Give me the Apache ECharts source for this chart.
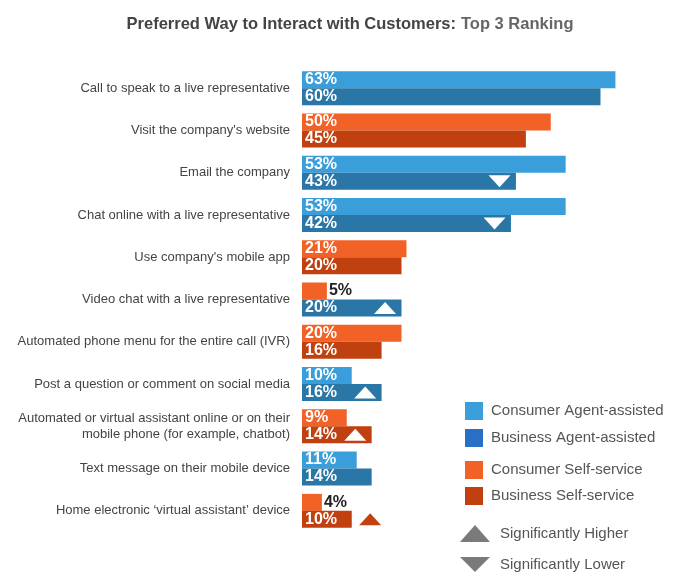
<!DOCTYPE html>
<html><head><meta charset="utf-8">
<script src="https://cdn.jsdelivr.net/npm/echarts@6/dist/echarts.min.js"></script>
<style>html,body{margin:0;padding:0;background:#fff}#c{width:700px;height:584px}</style>
</head><body><div id="c"></div>
<script>
const categories = [
  'Call to speak to a live representative',
  "Visit the company's website",
  'Email the company',
  'Chat online with a live representative',
  "Use company's mobile app",
  'Video chat with a live representative',
  'Automated phone menu for the entire call (IVR)',
  'Post a question or comment on social media',
  'Automated or virtual assistant online or on their\nmobile phone (for example, chatbot)',
  'Text message on their mobile device',
  'Home electronic \u2018virtual assistant\u2019 device'
];
// consumer bars
const consumerAgent = [63, '-', 53, 53, '-', '-', '-', 10, '-', 11, '-'];
const consumerSelf  = ['-', 50, '-', '-', 21, 5, 20, '-', 9, '-', 4];
// business bars
const businessAgent = [60, '-', 43, 42, '-', 20, '-', 16, '-', 14, '-'];
const businessSelf  = ['-', 45, '-', '-', 20, '-', 16, '-', 14, '-', 10];
// significance of business vs consumer
const significance = ['', '', 'down', 'down', '', 'up', '', 'up', 'up', '', 'up'];

const C_CA = '#3a9edb', C_BA = '#2a76a6', C_CS = '#f26125', C_BS = '#c0410f';
const FONT = 'Liberation Sans, Arial, sans-serif';

function barData(arr) {
  return arr.map(v => {
    if (v === '-') return '-';
    if (v < 8) return { value: v, label: { position: 'right', color: '#222', distance: 2 } };
    return v;
  });
}

const businessVal = businessAgent.map((v, i) => v === '-' ? businessSelf[i] : v);
const upData = [], downData = [];
significance.forEach((s, i) => {
  if (!s) return;
  const v = businessVal[i];
  const inside = v >= 12;
  const item = { value: [inside ? v - 3.3 : v + 3.7, i], itemStyle: { opacity: 1, color: inside ? '#ffffff' : (businessSelf[i] !== '-' ? C_BS : C_BA) } };
  (s === 'up' ? upData : downData).push(item);
});

const barLabel = {
  show: true, position: 'insideLeft', distance: 3, color: '#fff',
  fontSize: 16, fontWeight: 'bold', fontFamily: FONT,
  formatter: p => p.value + '%'
};
const common = { type: 'bar', barWidth: 17, barGap: '0%', label: barLabel, emphasis: { disabled: true } };

const chart = echarts.init(document.getElementById('c'));
chart.setOption({
  animation: false,
  textStyle: { fontFamily: FONT },
  title: {
    left: 'center', top: 10,
    text: '{b|Preferred Way to Interact with Customers:} {n|Top 3 Ranking}',
    textStyle: { rich: {
      b: { fontSize: 16.5, fontWeight: 'bold', color: '#444', fontFamily: FONT },
      n: { fontSize: 16.5, color: '#666', fontFamily: FONT }
    } }
  },
  grid: { left: 302, top: 67, width: 402, height: 465 },
  xAxis: { type: 'value', min: 0, max: 80, show: false, splitLine: { show: false } },
  yAxis: {
    type: 'category', data: categories, inverse: true,
    axisLine: { show: false }, axisTick: { show: false },
    axisLabel: { margin: 12, fontSize: 13, color: '#444', align: 'right', lineHeight: 16 }
  },
  legend: [
    { orient: 'vertical', left: 460, top: 397, itemWidth: 18, itemHeight: 18, itemGap: 9,
      icon: 'rect', textStyle: { fontSize: 15, color: '#555', padding: [0, 0, 0, 3] },
      data: [{ name: 'Consumer Agent-assisted' }, { name: 'Business Agent-assisted', itemStyle: { color: '#2a6fc6' } }] },
    { orient: 'vertical', left: 460, top: 456, itemWidth: 18, itemHeight: 18, itemGap: 8,
      icon: 'rect', textStyle: { fontSize: 15, color: '#555', padding: [0, 0, 0, 3] },
      data: ['Consumer Self-service', 'Business Self-service'] },
    { orient: 'vertical', left: 455, top: 520, itemWidth: 30, itemHeight: 17, itemGap: 15,
      textStyle: { fontSize: 15, color: '#555', padding: [0, 0, 0, 5] },
      data: [
        { name: 'Significantly Higher', icon: 'triangle', itemStyle: { color: '#7a7a7a' } },
        { name: 'Significantly Lower', icon: 'path://M0,0L2,0L1,1Z', itemStyle: { color: '#7a7a7a' } }
      ] }
  ],
  series: [
    Object.assign({}, common, { name: 'Consumer Agent-assisted', stack: 'consumer', data: barData(consumerAgent), itemStyle: { color: C_CA } }),
    Object.assign({}, common, { name: 'Consumer Self-service', stack: 'consumer', data: barData(consumerSelf), itemStyle: { color: C_CS } }),
    Object.assign({}, common, { name: 'Business Agent-assisted', stack: 'business', data: barData(businessAgent), itemStyle: { color: C_BA } }),
    Object.assign({}, common, { name: 'Business Self-service', stack: 'business', data: barData(businessSelf), itemStyle: { color: C_BS } }),
    { name: 'Significantly Higher', type: 'scatter', symbol: 'triangle', symbolSize: [22, 12], symbolOffset: [0, 8.5],
      itemStyle: { opacity: 1 }, data: upData, z: 5, emphasis: { disabled: true } },
    { name: 'Significantly Lower', type: 'scatter', symbol: 'path://M0,0L2,0L1,1Z', symbolSize: [22, 12], symbolOffset: [0, 8.5],
      itemStyle: { opacity: 1 }, data: downData, z: 5, emphasis: { disabled: true } }
  ]
});
</script></body></html>
